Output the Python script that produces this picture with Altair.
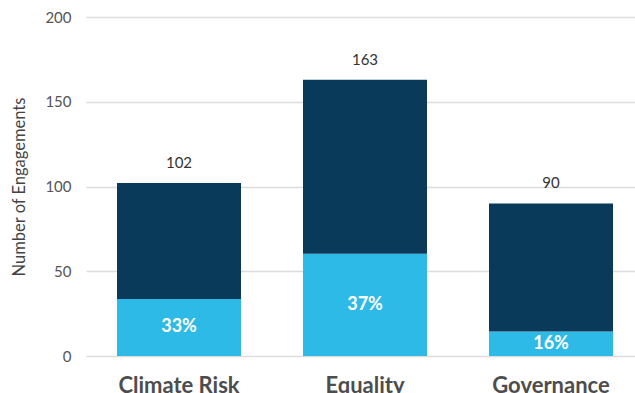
import altair as alt
import pandas as pd

# Engagements by theme: total count and the share highlighted in light blue
categories = ["Climate Risk", "Equality", "Governance"]
totals = [102, 163, 90]
share_pct = [33, 37, 16]

DARK = "#093a5a"
LIGHT = "#2ebae6"
FONT = "Lato"

rows = []
for cat, tot, pct in zip(categories, totals, share_pct):
    part = tot * pct / 100.0
    rows.append({"category": cat, "segment": "share", "value": part, "order": 0,
                 "total": tot, "pct": f"{pct}%", "mid": part / 2})
    rows.append({"category": cat, "segment": "rest", "value": tot - part, "order": 1,
                 "total": tot, "pct": f"{pct}%", "mid": part / 2})
df = pd.DataFrame(rows)

x_scale = alt.Scale(paddingInner=0.3333, paddingOuter=0.1425, align=0.585)
y_scale = alt.Scale(domain=[0, 200])

x_axis = alt.Axis(labelAngle=0, ticks=False, domain=False, labelFont=FONT,
                  labelFontSize=22, labelFontWeight="bold", labelColor="#4d4d4d",
                  labelPadding=19, grid=False)
y_axis = alt.Axis(values=[0, 50, 100, 150, 200], ticks=False, domain=False,
                  gridColor="#dcdcdc", gridWidth=1.5, labelFont=FONT,
                  labelFontSize=15, labelColor="#555555", labelPadding=15,
                  titleFont=FONT, titleFontSize=16.5, titleFontWeight="normal",
                  titleColor="#444444", titlePadding=17)
Y_TITLE = "Number of Engagements"


def x_enc():
    return alt.X("category:N", sort=categories, title=None, scale=x_scale, axis=x_axis)


bars = alt.Chart(df).mark_bar().encode(
    x=x_enc(),
    y=alt.Y("value:Q", stack="zero", scale=y_scale, title=Y_TITLE, axis=y_axis),
    color=alt.Color("segment:N", scale=alt.Scale(domain=["share", "rest"], range=[LIGHT, DARK]),
                    legend=None),
    order=alt.Order("order:Q"),
)

base_one = alt.Chart(df).transform_filter(alt.datum.segment == "share")

total_labels = base_one.mark_text(dy=-20, font=FONT, fontSize=15, color="#333333").encode(
    x=x_enc(),
    y=alt.Y("total:Q", scale=y_scale, title=Y_TITLE, axis=y_axis),
    text=alt.Text("total:Q"),
)

pct_labels = base_one.mark_text(font=FONT, fontSize=18, fontWeight="bold", color="white",
                                baseline="middle").encode(
    x=x_enc(),
    y=alt.Y("mid:Q", scale=y_scale, title=Y_TITLE, axis=y_axis),
    text=alt.Text("pct:N"),
)

chart = (
    alt.layer(bars, total_labels, pct_labels)
    .properties(width=549, height=339,
                background="white",
                autosize=alt.AutoSizeParams(type="none"),
                padding={"left": 86, "top": 17, "right": 0, "bottom": 37})
    .configure_view(stroke="transparent", strokeWidth=0)
    .configure_axis(domain=False, ticks=False)
    .configure_axisX(grid=False)
)

chart.save("out.html", embed_options={"renderer": "svg", "actions": False})
